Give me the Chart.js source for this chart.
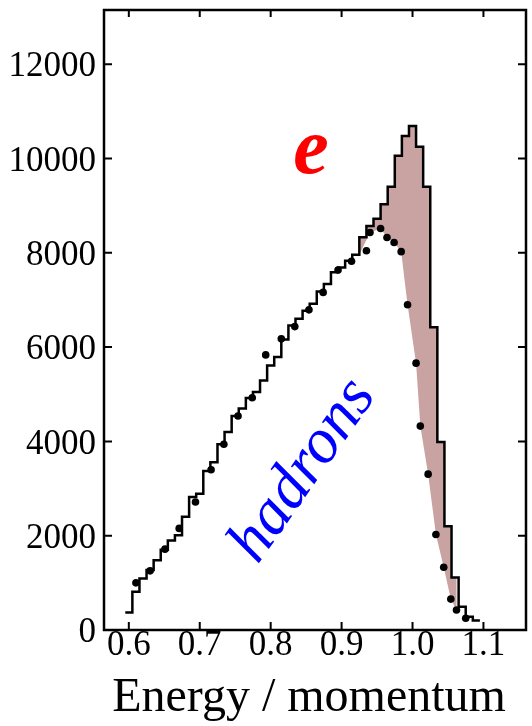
<!DOCTYPE html>
<html>
<head>
<meta charset="utf-8">
<script src="https://cdn.jsdelivr.net/npm/chart.js@4/dist/chart.umd.min.js"></script>
<style>
  html, body { margin: 0; padding: 0; background: #fff; }
  #wrap { width: 532px; height: 726px; }
</style>
</head>
<body>
<div id="wrap"><canvas id="chart"></canvas></div>
<script>
// E/p histogram (electron sample), bins of 0.01 centred on these values
const binWidth = 0.01;
const binCenters = [
  0.60, 0.61, 0.62, 0.63, 0.64, 0.65, 0.66, 0.67, 0.68, 0.69,
  0.70, 0.71, 0.72, 0.73, 0.74, 0.75, 0.76, 0.77, 0.78, 0.79,
  0.80, 0.81, 0.82, 0.83, 0.84, 0.85, 0.86, 0.87, 0.88, 0.89,
  0.90, 0.91, 0.92, 0.93, 0.94, 0.95, 0.96, 0.97, 0.98, 0.99,
  1.00, 1.01, 1.02, 1.03, 1.04, 1.05, 1.06, 1.07, 1.08, 1.09
];
const histCounts = [
  370, 810, 1090, 1270, 1480, 1700, 1900, 2010, 2400, 2820,
  2890, 3370, 3560, 3940, 4200, 4540, 4700, 4920, 5050, 5290,
  5610, 5790, 6160, 6460, 6600, 6770, 6920, 7180, 7340, 7590,
  7690, 7830, 7960, 8330, 8570, 8720, 9030, 9400, 10060, 10480,
  10690, 10250, 9400, 6420, 3990, 2200, 1115, 494, 280, 200
];

// hadron points (dots)
const hadronX = [
  0.610, 0.630, 0.651, 0.671, 0.694, 0.716, 0.734, 0.754, 0.774, 0.793,
  0.815, 0.834, 0.854, 0.874, 0.895, 0.914, 0.935, 0.940, 0.955, 0.964,
  0.974, 0.984, 0.993, 1.005, 1.011, 1.022, 1.033, 1.044, 1.054, 1.062, 1.075
];
const hadronY = [
  1000, 1255, 1715, 2155, 2715, 3400, 3940, 4540, 4925, 5835,
  6175, 6435, 6790, 7160, 7635, 7820, 8045, 8430, 8515, 8325,
  8220, 8025, 6900, 5660, 4325, 3305, 2025, 1330, 655, 425, 250
];

// shaded electron excess range
const shadeStart = 0.925;
const shadeEnd = 1.062;

const xTicks = [0.6, 0.7, 0.8, 0.9, 1.0, 1.1];
const yTicks = [0, 2000, 4000, 6000, 8000, 10000, 12000];
const xTitle = 'Energy / momentum';

const serif = "'Liberation Serif', 'Times New Roman', serif";

// histogram as step line: one point per bin left edge + closing right edge
const histPoints = binCenters.map((c, i) => ({ x: c - binWidth / 2, y: histCounts[i] }));
histPoints.push({ x: binCenters[binCenters.length - 1] + binWidth / 2, y: histCounts[histCounts.length - 1] });

function histLevelAt(x) {
  for (let i = 0; i < binCenters.length; i++) {
    if (x >= binCenters[i] - binWidth / 2 - 1e-9 && x < binCenters[i] + binWidth / 2 - 1e-9) return histCounts[i];
  }
  return 0;
}

// polygon between histogram (top) and hadron points (bottom)
const shadePoints = [];
shadePoints.push({ x: shadeStart, y: histLevelAt(shadeStart - 0.001) });
binCenters.forEach((c, i) => {
  const left = c - binWidth / 2;
  if (left >= shadeStart - 1e-6 && left < shadeEnd && i > 0) {
    shadePoints.push({ x: left, y: histCounts[i - 1] });
    shadePoints.push({ x: left, y: histCounts[i] });
  }
});
shadePoints.push({ x: shadeEnd, y: histLevelAt(shadeEnd) });
for (let i = hadronX.length - 1; i >= 0; i--) {
  if (hadronX[i] >= 0.94 && hadronX[i] <= shadeEnd + 1e-9) shadePoints.push({ x: hadronX[i], y: hadronY[i] });
}

const hadronPoints = hadronX.map((x, i) => ({ x: x, y: hadronY[i] }));

// frame, inward ticks, axis title and the two labels
const framePlugin = {
  id: 'frame',
  afterDraw(chart) {
    const { ctx, chartArea: a, scales } = chart;
    ctx.save();
    ctx.strokeStyle = '#000';
    ctx.lineWidth = 2.5;
    ctx.strokeRect(a.left, a.top, a.right - a.left, a.bottom - a.top);
    ctx.lineWidth = 2;
    ctx.beginPath();
    xTicks.forEach(v => {
      const px = scales.x.getPixelForValue(v);
      ctx.moveTo(px, a.bottom); ctx.lineTo(px, a.bottom - 8);
      ctx.moveTo(px, a.top); ctx.lineTo(px, a.top + 7);
    });
    yTicks.forEach(v => {
      if (v === 0) return;
      const py = scales.y.getPixelForValue(v);
      ctx.moveTo(a.left, py); ctx.lineTo(a.left + 8, py);
      ctx.moveTo(a.right, py); ctx.lineTo(a.right - 8, py);
    });
    ctx.stroke();

    // x axis title
    ctx.fillStyle = '#000';
    ctx.font = '48px ' + serif;
    ctx.textAlign = 'center';
    ctx.textBaseline = 'alphabetic';
    ctx.fillText(xTitle, (a.left + a.right) / 2 - 6, 711);

    // "e" label
    ctx.fillStyle = '#ff0000';
    ctx.font = 'italic bold 80px ' + serif;
    ctx.fillText('e', scales.x.getPixelForValue(0.857), scales.y.getPixelForValue(9700));

    // "hadrons" label, rotated
    ctx.fillStyle = '#0000ff';
    ctx.font = 'italic 64px ' + serif;
    ctx.translate(scales.x.getPixelForValue(0.846), scales.y.getPixelForValue(3380));
    ctx.rotate(-55 * Math.PI / 180);
    ctx.textBaseline = 'middle';
    ctx.fillText('hadrons', 0, 0);
    ctx.restore();
  }
};

new Chart(document.getElementById('chart'), {
  type: 'line',
  data: {
    datasets: [
      {
        label: 'hadrons',
        data: hadronPoints,
        showLine: false,
        pointRadius: 3.8,
        pointBackgroundColor: '#000',
        pointBorderColor: '#000',
        pointBorderWidth: 0,
        order: 0
      },
      {
        label: 'electrons',
        data: histPoints,
        stepped: 'before',
        borderColor: '#000',
        borderWidth: 2.5,
        pointRadius: 0,
        fill: false,
        order: 1
      },
      {
        label: 'excess',
        data: shadePoints,
        borderWidth: 0,
        borderColor: 'rgba(0,0,0,0)',
        backgroundColor: '#c9a3a2',
        pointRadius: 0,
        fill: 'shape',
        order: 2
      }
    ]
  },
  options: {
    responsive: true,
    maintainAspectRatio: false,
    animation: false,
    events: [],
    layout: { padding: { top: 10, right: 6, left: 0, bottom: 0 } },
    plugins: { legend: { display: false }, tooltip: { enabled: false } },
    scales: {
      x: {
        type: 'linear',
        min: 0.565,
        max: 1.16,
        grid: { display: false, drawTicks: false },
        border: { display: false },
        afterBuildTicks: (scale) => { scale.ticks = xTicks.map(v => ({ value: v })); },
        afterFit: (scale) => {
          scale.height = 96;
          scale.paddingLeft = 0; scale.paddingRight = 0;
        },
        ticks: {
          color: '#000',
          font: { family: serif, size: 35 },
          padding: -5,
          maxRotation: 0,
          autoSkip: false,
          callback: (v) => Number(v).toFixed(1)
        }
      },
      y: {
        min: 0,
        max: 13150,
        grid: { display: false, drawTicks: false },
        border: { display: false },
        afterBuildTicks: (scale) => { scale.ticks = yTicks.map(v => ({ value: v })); },
        afterFit: (scale) => {
          scale.width = 104;
          scale.paddingTop = 0; scale.paddingBottom = 0;
        },
        ticks: {
          color: '#000',
          font: { family: serif, size: 35 },
          padding: 8,
          labelOffset: 3,
          autoSkip: false,
          callback: (v) => String(v)
        }
      }
    }
  },
  plugins: [framePlugin]
});
</script>
</body>
</html>
